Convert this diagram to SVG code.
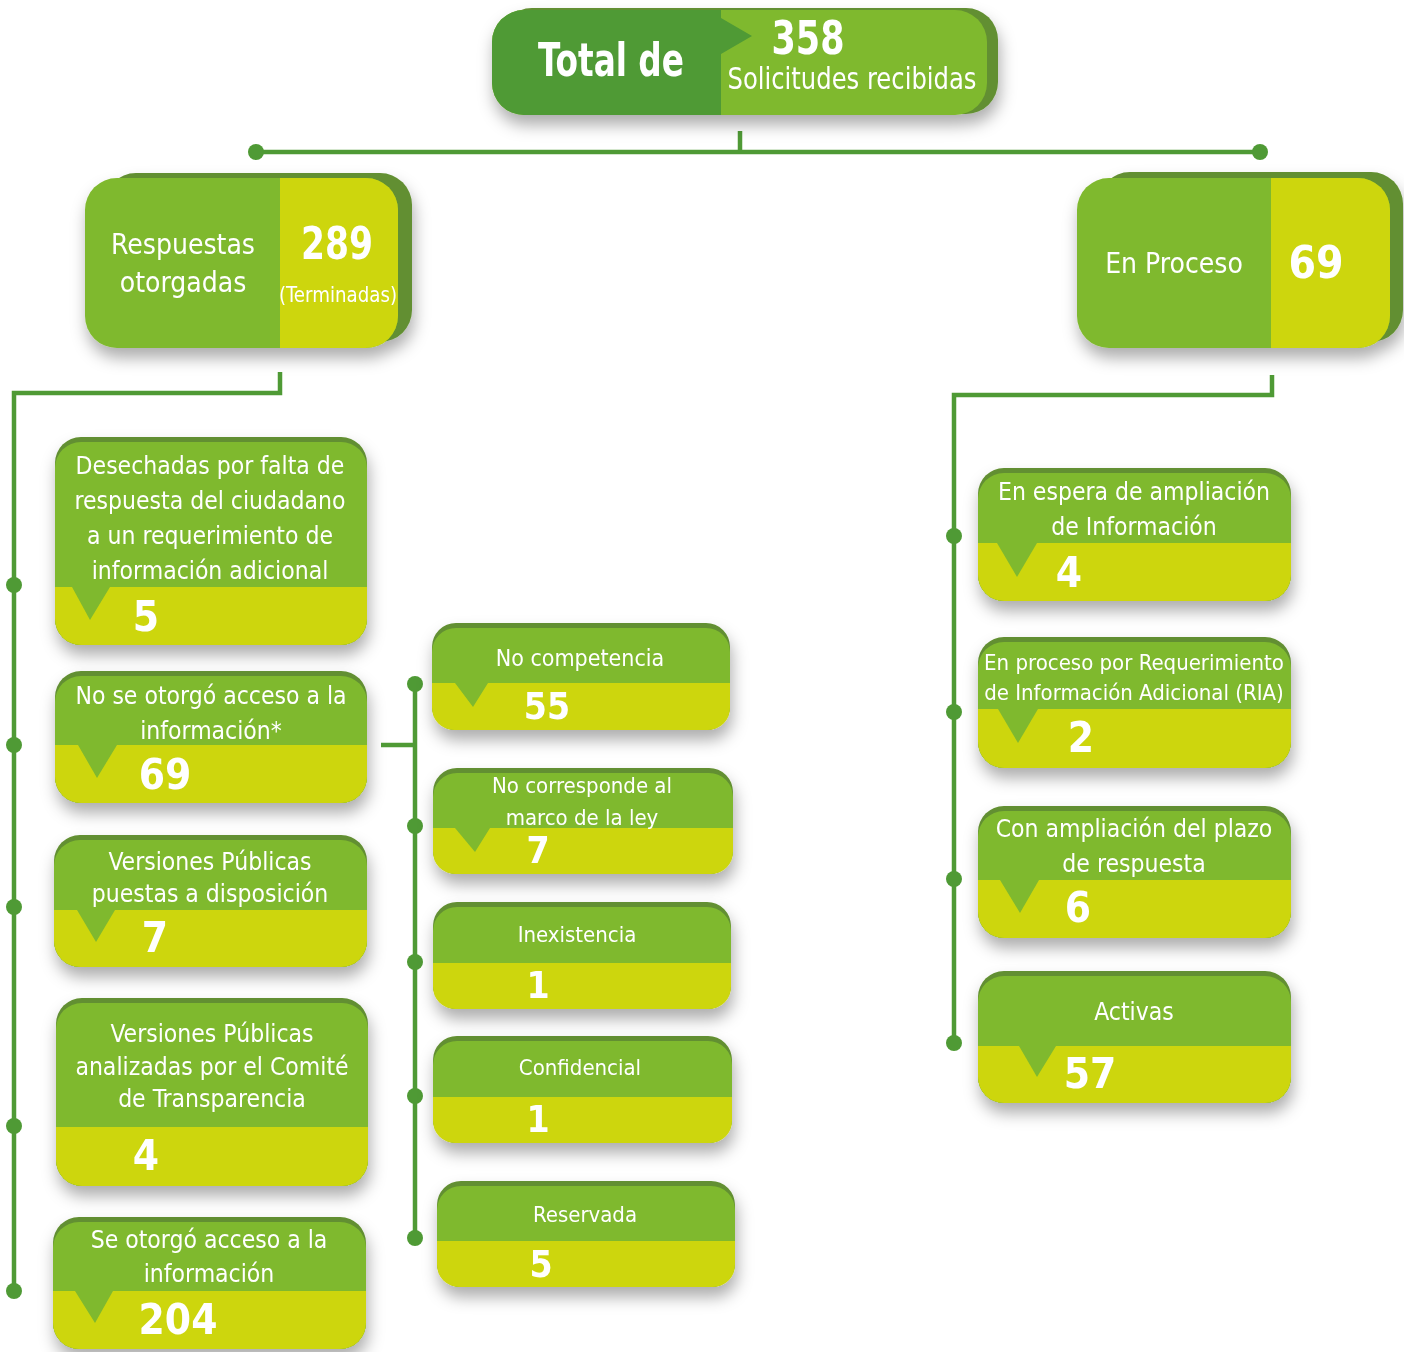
<svg xmlns="http://www.w3.org/2000/svg" width="1404" height="1352" viewBox="0 0 1404 1352">
<defs>
<filter id="sh" x="-10%" y="-10%" width="125%" height="140%">
<feDropShadow dx="2" dy="10" stdDeviation="8" flood-color="#000" flood-opacity="0.32"/>
</filter>
<style>
.g{fill:#7fb92e}
.y{fill:#cdd60f}
.dk{fill:#628f31}
.dg{fill:#4f9a35}
.ln{stroke:#4f9a35;stroke-width:4.5;fill:none}
.dot{fill:#4f9a35}
text{font-family:"Liberation Sans Narrow","DejaVu Sans Condensed",sans-serif;font-stretch:condensed;fill:#fff;text-anchor:middle}
.l{font-size:24.5px}
.s{font-size:22px}
.n{font-size:42px;font-weight:bold}
.m{font-size:37px;font-weight:bold}
</style>
</defs>
<rect width="1404" height="1352" fill="#fff"/>

<g id="connectors">
<path class="ln" d="M740 131V152M256 152H1260"/>
<circle class="dot" cx="256" cy="152" r="8"/>
<circle class="dot" cx="1260" cy="152" r="8"/>
<path class="ln" d="M280 372V393H14V1291"/>
<circle class="dot" cx="14" cy="585" r="8"/>
<circle class="dot" cx="14" cy="745" r="8"/>
<circle class="dot" cx="14" cy="907" r="8"/>
<circle class="dot" cx="14" cy="1126" r="8"/>
<circle class="dot" cx="14" cy="1291" r="8"/>
<path class="ln" d="M381 745H415M415 684V1239"/>
<circle class="dot" cx="415" cy="684" r="8"/>
<circle class="dot" cx="415" cy="826" r="8"/>
<circle class="dot" cx="415" cy="962" r="8"/>
<circle class="dot" cx="415" cy="1096" r="8"/>
<circle class="dot" cx="415" cy="1238" r="8"/>
<path class="ln" d="M1272 375V395H954V1043"/>
<circle class="dot" cx="954" cy="536" r="8"/>
<circle class="dot" cx="954" cy="712" r="8"/>
<circle class="dot" cx="954" cy="879" r="8"/>
<circle class="dot" cx="954" cy="1043" r="8"/>
</g>

<g id="total" filter="url(#sh)">
<rect class="dk" x="500" y="8" width="498" height="106" rx="32"/>
<rect class="g" x="492" y="10" width="495" height="105" rx="32"/>
<path class="dg" d="M524 10H721V18L752 36L721 54V115H524A32 32 0 0 1 492 83V42A32 32 0 0 1 524 10Z"/>
<text x="611" y="76" textLength="146" lengthAdjust="spacingAndGlyphs" style="font-size:46px;font-weight:bold">Total de</text>
<text x="808" y="54" textLength="73" lengthAdjust="spacingAndGlyphs" style="font-size:46px;font-weight:bold">358</text>
<text x="852" y="89" textLength="249" lengthAdjust="spacingAndGlyphs" style="font-size:30px">Solicitudes recibidas</text>
</g>

<g id="respuestas" filter="url(#sh)">
<rect class="dk" x="104" y="173" width="308" height="169" rx="32"/>
<rect class="g" x="85" y="178" width="313" height="170" rx="32"/>
<path class="y" d="M280 178H366A32 32 0 0 1 398 210V316A32 32 0 0 1 366 348H280Z"/>
<text x="183" y="254" style="font-size:28px">Respuestas</text>
<text x="183" y="292" style="font-size:28px">otorgadas</text>
<text x="337" y="259" textLength="72" lengthAdjust="spacingAndGlyphs" style="font-size:44px;font-weight:bold">289</text>
<text x="338" y="302" textLength="118" lengthAdjust="spacingAndGlyphs" style="font-size:21px">(Terminadas)</text>
</g>

<g id="enproceso" filter="url(#sh)">
<rect class="dk" x="1098" y="172" width="305" height="170" rx="32"/>
<rect class="g" x="1077" y="178" width="313" height="170" rx="32"/>
<path class="y" d="M1271 178H1358A32 32 0 0 1 1390 210V316A32 32 0 0 1 1358 348H1271Z"/>
<text x="1174" y="273" style="font-size:28px">En Proceso</text>
<text x="1316" y="278" style="font-size:44px;font-weight:bold">69</text>
</g>

<!-- left children -->
<g id="desechadas" filter="url(#sh)">
<rect class="dk" x="55" y="437" width="312" height="208" rx="26"/>
<rect class="g" x="55" y="442" width="312" height="203" rx="26"/>
<rect class="y" x="55" y="587" width="312" height="58" rx="26"/>
<rect class="y" x="55" y="587" width="312" height="26"/>
<polygon class="g" points="72,587 110,587 90,620"/>
<text class="l" x="210" y="474">Desechadas por falta de</text>
<text class="l" x="210" y="509">respuesta del ciudadano</text>
<text class="l" x="210" y="544">a un requerimiento de</text>
<text class="l" x="210" y="579">información adicional</text>
<text class="n" x="146" y="631">5</text>
</g>

<g id="nootorgo" filter="url(#sh)">
<rect class="dk" x="55" y="671" width="312" height="132" rx="26"/>
<rect class="g" x="55" y="676" width="312" height="127" rx="26"/>
<rect class="y" x="55" y="745" width="312" height="58" rx="26"/>
<rect class="y" x="55" y="745" width="312" height="26"/>
<polygon class="g" points="78,745 117,745 97,778"/>
<text class="l" x="211" y="704">No se otorgó acceso a la</text>
<text class="l" x="211" y="739">información*</text>
<text class="n" x="165" y="789">69</text>
</g>

<g id="vp-disposicion" filter="url(#sh)">
<rect class="dk" x="54" y="835" width="313" height="132" rx="26"/>
<rect class="g" x="54" y="840" width="313" height="127" rx="26"/>
<rect class="y" x="54" y="910" width="313" height="57" rx="26"/>
<rect class="y" x="54" y="910" width="313" height="26"/>
<polygon class="g" points="77,910 115,910 96,942"/>
<text class="l" x="210" y="870">Versiones Públicas</text>
<text class="l" x="210" y="902">puestas a disposición</text>
<text class="n" x="155" y="952">7</text>
</g>

<g id="vp-comite" filter="url(#sh)">
<rect class="dk" x="56" y="998" width="312" height="188" rx="26"/>
<rect class="g" x="56" y="1003" width="312" height="183" rx="26"/>
<rect class="y" x="56" y="1127" width="312" height="59" rx="26"/>
<rect class="y" x="56" y="1127" width="312" height="26"/>
<text class="l" x="212" y="1042">Versiones Públicas</text>
<text class="l" x="212" y="1075">analizadas por el Comité</text>
<text class="l" x="212" y="1107">de Transparencia</text>
<text class="n" x="146" y="1170">4</text>
</g>

<g id="seotorgo" filter="url(#sh)">
<rect class="dk" x="53" y="1217" width="313" height="132" rx="26"/>
<rect class="g" x="53" y="1222" width="313" height="127" rx="26"/>
<rect class="y" x="53" y="1291" width="313" height="58" rx="26"/>
<rect class="y" x="53" y="1291" width="313" height="26"/>
<polygon class="g" points="75,1291 113,1291 95,1323"/>
<text class="l" x="209" y="1248">Se otorgó acceso a la</text>
<text class="l" x="209" y="1282">información</text>
<text class="n" x="178" y="1334">204</text>
</g>

<!-- middle children -->
<g id="nocompetencia" filter="url(#sh)">
<rect class="dk" x="432" y="623" width="298" height="107" rx="24"/>
<rect class="g" x="432" y="628" width="298" height="102" rx="24"/>
<rect class="y" x="432" y="683" width="298" height="47" rx="22"/>
<rect class="y" x="432" y="683" width="298" height="22"/>
<polygon class="g" points="455,683 488,683 473,707"/>
<text x="580" y="666" style="font-size:23px">No competencia</text>
<text class="m" x="547" y="719">55</text>
</g>

<g id="nocorresponde" filter="url(#sh)">
<rect class="dk" x="433" y="768" width="300" height="106" rx="24"/>
<rect class="g" x="433" y="773" width="300" height="101" rx="24"/>
<rect class="y" x="433" y="828" width="300" height="46" rx="22"/>
<rect class="y" x="433" y="828" width="300" height="22"/>
<polygon class="g" points="455,828 490,828 475,852"/>
<text class="s" x="582" y="793">No corresponde al</text>
<text class="s" x="582" y="825">marco de la ley</text>
<text class="m" x="538" y="863">7</text>
</g>

<g id="inexistencia" filter="url(#sh)">
<rect class="dk" x="433" y="902" width="298" height="107" rx="24"/>
<rect class="g" x="433" y="907" width="298" height="102" rx="24"/>
<rect class="y" x="433" y="963" width="298" height="46" rx="22"/>
<rect class="y" x="433" y="963" width="298" height="22"/>
<text class="s" x="577" y="942">Inexistencia</text>
<text class="m" x="538" y="998">1</text>
</g>

<g id="confidencial" filter="url(#sh)">
<rect class="dk" x="433" y="1036" width="299" height="107" rx="24"/>
<rect class="g" x="433" y="1041" width="299" height="102" rx="24"/>
<rect class="y" x="433" y="1097" width="299" height="46" rx="22"/>
<rect class="y" x="433" y="1097" width="299" height="22"/>
<text class="s" x="580" y="1075">Confidencial</text>
<text class="m" x="538" y="1132">1</text>
</g>

<g id="reservada" filter="url(#sh)">
<rect class="dk" x="437" y="1181" width="298" height="106" rx="24"/>
<rect class="g" x="437" y="1186" width="298" height="101" rx="24"/>
<rect class="y" x="437" y="1241" width="298" height="46" rx="22"/>
<rect class="y" x="437" y="1241" width="298" height="22"/>
<text class="s" x="585" y="1222">Reservada</text>
<text class="m" x="541" y="1277">5</text>
</g>

<!-- right children -->
<g id="espera" filter="url(#sh)">
<rect class="dk" x="978" y="468" width="313" height="133" rx="26"/>
<rect class="g" x="978" y="473" width="313" height="128" rx="26"/>
<rect class="y" x="978" y="543" width="313" height="58" rx="26"/>
<rect class="y" x="978" y="543" width="313" height="26"/>
<polygon class="g" points="997,543 1037,543 1017,577"/>
<text class="l" x="1134" y="500">En espera de ampliación</text>
<text class="l" x="1134" y="535">de Información</text>
<text class="n" x="1069" y="587">4</text>
</g>

<g id="ria" filter="url(#sh)">
<rect class="dk" x="978" y="637" width="313" height="131" rx="26"/>
<rect class="g" x="978" y="642" width="313" height="126" rx="26"/>
<rect class="y" x="978" y="709" width="313" height="59" rx="26"/>
<rect class="y" x="978" y="709" width="313" height="26"/>
<polygon class="g" points="998,709 1038,709 1018,743"/>
<text class="s" x="1134" y="670">En proceso por Requerimiento</text>
<text class="s" x="1134" y="700">de Información Adicional (RIA)</text>
<text class="n" x="1081" y="752">2</text>
</g>

<g id="ampliacion" filter="url(#sh)">
<rect class="dk" x="978" y="806" width="313" height="132" rx="26"/>
<rect class="g" x="978" y="811" width="313" height="127" rx="26"/>
<rect class="y" x="978" y="880" width="313" height="58" rx="26"/>
<rect class="y" x="978" y="880" width="313" height="26"/>
<polygon class="g" points="1000,880 1039,880 1020,913"/>
<text class="l" x="1134" y="837">Con ampliación del plazo</text>
<text class="l" x="1134" y="872">de respuesta</text>
<text class="n" x="1078" y="922">6</text>
</g>

<g id="activas" filter="url(#sh)">
<rect class="dk" x="978" y="971" width="313" height="132" rx="26"/>
<rect class="g" x="978" y="976" width="313" height="127" rx="26"/>
<rect class="y" x="978" y="1046" width="313" height="57" rx="26"/>
<rect class="y" x="978" y="1046" width="313" height="26"/>
<polygon class="g" points="1019,1046 1056,1046 1037,1077"/>
<text class="l" x="1134" y="1020">Activas</text>
<text class="n" x="1090" y="1088">57</text>
</g>
</svg>
